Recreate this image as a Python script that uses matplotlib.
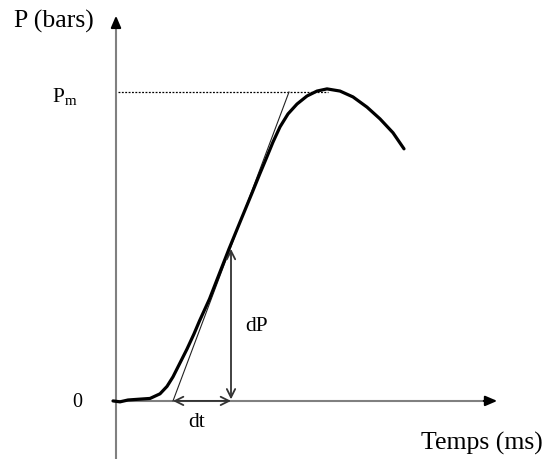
import numpy as np
import matplotlib
matplotlib.use("Agg")
import matplotlib.pyplot as plt

plt.rcParams['font.family'] = ['Liberation Serif', 'DejaVu Serif']
plt.rcParams['mathtext.fontset'] = 'custom'
plt.rcParams['mathtext.rm'] = 'Liberation Serif'

# pressure curve (arbitrary units: t in ms-like units, P normalised to Pm = 1)
t_curve = [-0.3, 0.4, 1.2, 2.5, 3.4, 4.4, 5.1, 5.7, 6.4, 7.1, 7.8, 8.35, 9.35, 10.13,
           11.3, 12.53, 13.64, 14.38, 15.0, 15.7, 16.4, 17.2, 18.1, 19.1, 20.1, 21.1,
           22.4, 23.7, 25.1, 26.4, 27.7, 28.8]
p_curve = [0.000, -0.003, 0.003, 0.006, 0.008, 0.023, 0.047, 0.078, 0.123, 0.168,
           0.217, 0.259, 0.330, 0.395, 0.492, 0.589, 0.676, 0.735, 0.783, 0.838,
           0.887, 0.929, 0.961, 0.987, 1.003, 1.010, 1.003, 0.984, 0.951, 0.913,
           0.868, 0.816]

# tangent at the inflection point
t_tangent = [5.7, 17.3]
p_tangent = [0.0, 1.0]

p_max = 1.0
t_pmax_end = 21.2
t_dt = [5.7, 11.5]
p_dp = [0.0, 0.492]

fig = plt.figure(figsize=(5.46, 4.60), dpi=100)
ax = fig.add_axes([0, 0, 1, 1])
ax.set_xlim(-11.6, 43.0)
ax.set_ylim(-0.188, 1.301)
ax.axis('off')

axis_col = '#808080'
# axes with arrows
ax.plot([0, 0], [-0.188, 1.22], color=axis_col, lw=1.5, solid_capstyle='butt')
ax.annotate('', xy=(0, 1.256), xytext=(0, 1.20),
            arrowprops=dict(arrowstyle='-|>,head_length=0.7,head_width=0.3', color='black', lw=1.5))
ax.plot([0, 37.0], [0, 0], color=axis_col, lw=1.5, solid_capstyle='butt')
ax.annotate('', xy=(38.4, 0), xytext=(36.5, 0),
            arrowprops=dict(arrowstyle='-|>,head_length=0.7,head_width=0.3', color='black', lw=1.5))

# Pm level
ax.plot([0.2, t_pmax_end], [p_max, p_max], color='black', lw=0.9, linestyle=(0, (1.5, 1.2)))

# tangent
ax.plot(t_tangent, p_tangent, color='#222222', lw=0.8)

# curve
ax.plot(t_curve, p_curve, color='black', lw=2.3, solid_capstyle='round', solid_joinstyle='round')

# dt / dP arrows
ax.annotate('', xy=(t_dt[0], 0), xytext=(t_dt[1], 0),
            arrowprops=dict(arrowstyle='<->,head_length=0.6,head_width=0.3', color='#333333', lw=1.3,
                            shrinkA=0, shrinkB=0))
ax.annotate('', xy=(t_dt[1], p_dp[0] + 0.005), xytext=(t_dt[1], p_dp[1]),
            arrowprops=dict(arrowstyle='<->,head_length=0.6,head_width=0.3', color='#333333', lw=1.3,
                            shrinkA=0, shrinkB=0))

# labels
ax.text(-10.2, 1.232, 'P (bars)', fontsize=18.5, ha='left', va='center')
ax.text(-6.4, 0.985, r'P$_{\mathrm{m}}$', fontsize=15.5, ha='left', va='center')
ax.text(-3.9, -0.003, '0', fontsize=14.5, ha='center', va='center')
ax.text(8.1, -0.065, 'dt', fontsize=15.5, ha='center', va='center')
ax.text(14.1, 0.243, 'dP', fontsize=15.5, ha='center', va='center')
ax.text(42.7, -0.135, 'Temps (ms)', fontsize=18.5, ha='right', va='center')

fig.savefig('out.png', dpi=100)
